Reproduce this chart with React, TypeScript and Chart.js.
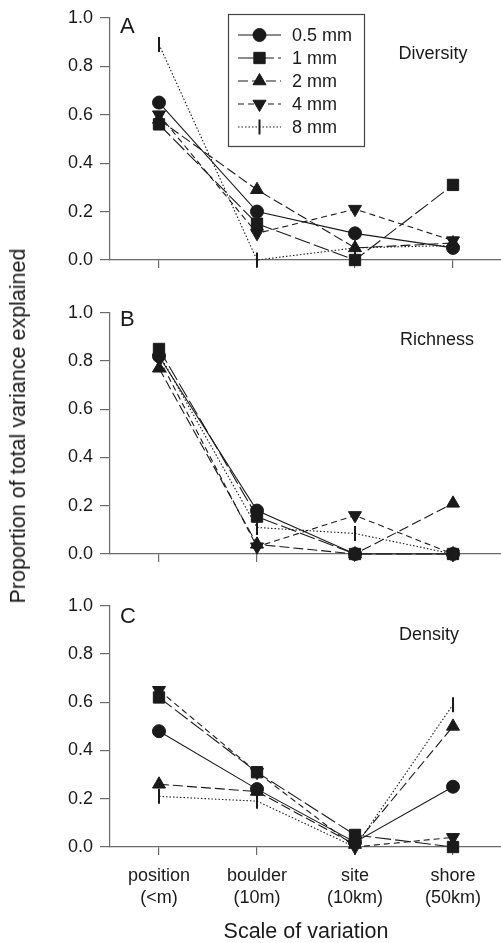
import React, { useEffect, useRef } from "react";
import { Chart, registerables } from "chart.js";
import { drawPoint } from "chart.js/helpers";

Chart.register(...registerables);

// ---- data ----
const categories = [
  ["position", "(<m)"],
  ["boulder", "(10m)"],
  ["site", "(10km)"],
  ["shore", "(50km)"],
];
const sizeLabels = ["0.5 mm", "1 mm", "2 mm", "4 mm", "8 mm"];
const yTickValues = [0, 0.2, 0.4, 0.6, 0.8, 1.0];
const yTitle = "Proportion of total variance explained";
const xTitle = "Scale of variation";

const diversity05 = [0.65, 0.2, 0.11, 0.05];
const diversity1 = [0.56, 0.15, 0.0, 0.31];
const diversity2 = [0.58, 0.29, 0.05, 0.07];
const diversity4 = [0.6, 0.11, 0.21, 0.08];
const diversity8 = [0.89, 0.0, 0.05, 0.06];

const richness05 = [0.82, 0.18, 0.0, 0.0];
const richness1 = [0.85, 0.155, 0.0, 0.0];
const richness2 = [0.77, 0.04, 0.0, 0.21];
const richness4 = [0.81, 0.03, 0.16, 0.0];
const richness8 = [0.83, 0.11, 0.085, 0.0];

const density05 = [0.48, 0.24, 0.02, 0.25];
const density1 = [0.62, 0.31, 0.05, 0.0];
const density2 = [0.26, 0.23, 0.01, 0.5];
const density4 = [0.65, 0.31, 0.0, 0.04];
const density8 = [0.21, 0.19, 0.0, 0.59];

// ---- styles ----
const FONT = "'Liberation Sans', Arial, Helvetica, sans-serif";
const INK = "#1a1a1a";
const AXIS = "#6a6a6a";

const seriesStyles = [
  { pointStyle: "circle", rotation: 0, radius: 6.5, dash: [] as number[], pbw: 1 },
  { pointStyle: "rect", rotation: 0, radius: 8, dash: [16, 4], pbw: 1 },
  { pointStyle: "triangle", rotation: 0, radius: 7.5, dash: [10, 4], pbw: 1 },
  { pointStyle: "triangle", rotation: 180, radius: 7.5, dash: [6, 4], pbw: 1 },
  { pointStyle: "line", rotation: 90, radius: 7.5, dash: [1.5, 2], pbw: 2 },
];

type PanelCfg = {
  letter: string;
  title: string;
  series: number[][];
  top: number;
  height: number;
  xAxisHeight: number;
  showX: boolean;
  legend: boolean;
  letterDy: number;
  titleX: number;
  titleDy: number;
};

const panels: PanelCfg[] = [
  {
    letter: "A",
    title: "Diversity",
    series: [diversity05, diversity1, diversity2, diversity4, diversity8],
    top: 0,
    height: 290,
    xAxisHeight: 30,
    showX: false,
    legend: true,
    letterDy: 9,
    titleX: 433,
    titleDy: 36,
  },
  {
    letter: "B",
    title: "Richness",
    series: [richness05, richness1, richness2, richness4, richness8],
    top: 295,
    height: 289,
    xAxisHeight: 30,
    showX: false,
    legend: false,
    letterDy: 7,
    titleX: 437,
    titleDy: 27,
  },
  {
    letter: "C",
    title: "Density",
    series: [density05, density1, density2, density4, density8],
    top: 588,
    height: 355,
    xAxisHeight: 96,
    showX: true,
    legend: false,
    letterDy: 11,
    titleX: 429,
    titleDy: 29,
  },
];

function makeTextPlugin(cfg: PanelCfg) {
  return {
    id: "panelText" + cfg.letter,
    afterDraw(chart: any) {
      const ctx = chart.ctx as CanvasRenderingContext2D;
      const area = chart.chartArea;
      ctx.save();
      ctx.fillStyle = INK;
      ctx.textBaseline = "middle";
      ctx.textAlign = "left";
      ctx.font = `22px ${FONT}`;
      ctx.fillText(cfg.letter, area.left + 10, area.top + cfg.letterDy);
      ctx.textAlign = "center";
      ctx.font = `18px ${FONT}`;
      ctx.fillText(cfg.title, cfg.titleX, area.top + cfg.titleDy);

      if (cfg.legend) {
        const bx = 228.5,
          by = 14.5,
          bw = 136,
          bh = 132;
        ctx.strokeStyle = "#444";
        ctx.lineWidth = 1.2;
        ctx.setLineDash([]);
        ctx.strokeRect(bx, by, bw, bh);
        for (let i = 0; i < sizeLabels.length; i++) {
          const st = seriesStyles[i];
          const y = 35 + i * 23;
          ctx.strokeStyle = INK;
          ctx.lineWidth = 1.1;
          ctx.setLineDash(st.dash);
          ctx.beginPath();
          ctx.moveTo(238, y);
          ctx.lineTo(281, y);
          ctx.stroke();
          ctx.setLineDash([]);
          ctx.fillStyle = INK;
          ctx.strokeStyle = INK;
          ctx.lineWidth = st.pbw;
          drawPoint(
            ctx,
            {
              pointStyle: st.pointStyle as any,
              rotation: st.rotation,
              radius: st.radius,
              borderWidth: st.pbw,
            } as any,
            259.5,
            y
          );
          ctx.fillStyle = INK;
          ctx.textAlign = "left";
          ctx.textBaseline = "middle";
          ctx.font = `18px ${FONT}`;
          ctx.fillText(sizeLabels[i], 292, y + 1);
        }
      }
      ctx.restore();
    },
  };
}

function Panel({ cfg }: { cfg: PanelCfg }) {
  const ref = useRef<HTMLCanvasElement>(null);
  useEffect(() => {
    const canvas = ref.current!;
    const chart = new Chart(canvas, {
      type: "line",
      data: {
        datasets: cfg.series.map((vals, i) => ({
          label: sizeLabels[i],
          data: vals.map((v, j) => ({ x: j, y: v })),
          borderColor: INK,
          backgroundColor: INK,
          borderWidth: 1.1,
          borderDash: seriesStyles[i].dash,
          pointStyle: seriesStyles[i].pointStyle as any,
          pointRotation: seriesStyles[i].rotation,
          pointRadius: seriesStyles[i].radius,
          pointBackgroundColor: INK,
          pointBorderColor: INK,
          pointBorderWidth: seriesStyles[i].pbw,
          tension: 0,
          fill: false,
          clip: false as any,
        })),
      },
      options: {
        animation: false,
        responsive: false,
        events: [],
        layout: {
          autoPadding: false,
          padding: { top: 15, right: 0, bottom: 0, left: 0 },
        },
        plugins: {
          legend: { display: false },
          tooltip: { enabled: false },
        },
        scales: {
          x: {
            type: "linear",
            min: -0.5,
            max: 3.5,
            afterBuildTicks: (s: any) => {
              s.ticks = [0, 1, 2, 3].map((v) => ({ value: v }));
            },
            afterFit: (s: any) => {
              s.height = cfg.xAxisHeight;
            },
            grid: {
              drawOnChartArea: false,
              drawTicks: true,
              tickLength: 8,
              color: AXIS,
              lineWidth: 1.2,
            },
            border: { display: true, color: AXIS, width: 1.2 },
            ticks: {
              display: cfg.showX,
              autoSkip: false,
              maxRotation: 0,
              padding: 10,
              color: INK,
              font: { family: FONT, size: 18, lineHeight: 1.22 },
              callback: (v: any) => categories[Math.round(Number(v))] ?? "",
            },
            title: {
              display: cfg.showX,
              text: xTitle,
              color: INK,
              font: { family: FONT, size: 21.5, lineHeight: 1.0 },
              padding: { top: 0, bottom: 0 },
            },
          },
          y: {
            type: "linear",
            min: 0,
            max: 1,
            afterBuildTicks: (s: any) => {
              s.ticks = yTickValues.map((v) => ({ value: v }));
            },
            afterFit: (s: any) => {
              s.width = 110;
            },
            grid: {
              drawOnChartArea: false,
              drawTicks: true,
              tickLength: 10,
              color: AXIS,
              lineWidth: 1.2,
            },
            border: { display: true, color: AXIS, width: 1.2 },
            ticks: {
              padding: 7,
              color: INK,
              font: { family: FONT, size: 18 },
              callback: (v: any) => Number(v).toFixed(1),
            },
          },
        },
      },
      plugins: [makeTextPlugin(cfg)],
    });
    return () => chart.destroy();
  }, []);
  return (
    <canvas
      ref={ref}
      width={502}
      height={cfg.height}
      style={{
        position: "absolute",
        left: 0,
        top: cfg.top,
        width: 502,
        height: cfg.height,
        display: "block",
      }}
    />
  );
}

export default function App() {
  return (
    <div
      style={{
        position: "fixed",
        left: 0,
        top: 0,
        width: 501,
        height: 943,
        overflow: "hidden",
        background: "#ffffff",
      }}
    >
      {panels.map((p) => (
        <Panel key={p.letter} cfg={p} />
      ))}
      <div
        style={{
          position: "absolute",
          left: 18,
          top: 426,
          width: 0,
          height: 0,
        }}
      >
        <div
          style={{
            position: "absolute",
            left: 0,
            top: 0,
            transform: "translate(-50%, -50%) rotate(-90deg)",
            whiteSpace: "nowrap",
            fontFamily: FONT,
            fontSize: 21.5,
            lineHeight: "24px",
            color: INK,
          }}
        >
          {yTitle}
        </div>
      </div>
    </div>
  );
}
